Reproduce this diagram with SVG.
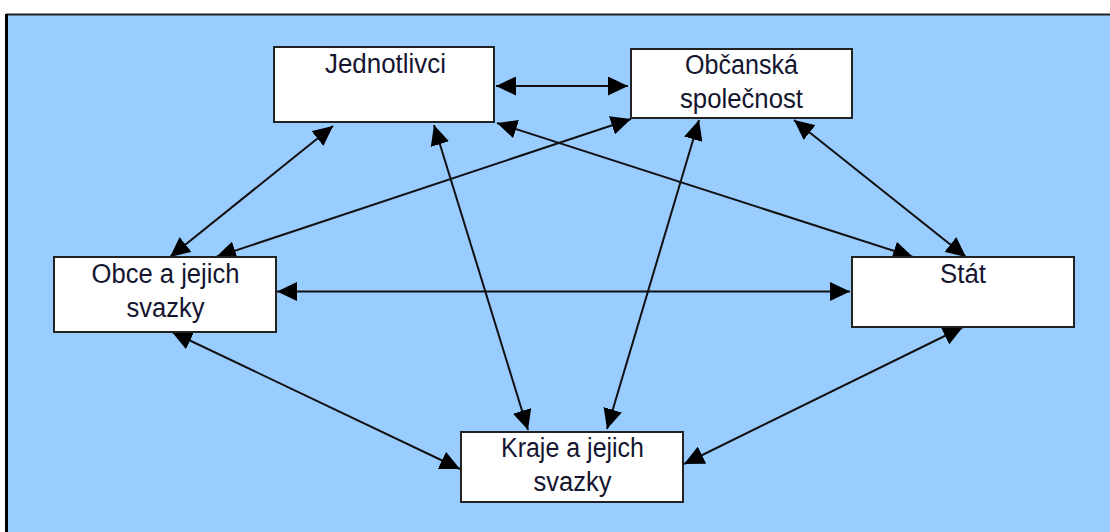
<svg xmlns="http://www.w3.org/2000/svg" width="1110" height="532" viewBox="0 0 1110 532">
  <defs>
    <style>
      .box { fill: #ffffff; stroke: #222222; stroke-width: 2; }
      .lbl { font-family: "Liberation Sans", Arial, sans-serif; font-size: 27px; fill: #151530; text-anchor: middle; }
      .con { stroke: #111111; stroke-width: 2; fill: none; marker-start: url(#ah); marker-end: url(#ah); }
    </style>
    <marker id="ah" markerUnits="userSpaceOnUse" markerWidth="20" markerHeight="19" viewBox="0 0 20 19" refX="20" refY="9.5" orient="auto-start-reverse">
      <path d="M0,0 L20,9.5 L0,19 z" fill="#000000"/>
    </marker>
  </defs>

  <rect x="0" y="0" width="1110" height="532" fill="#ffffff"/>
  <rect x="7" y="14" width="1103" height="518" fill="#99ccff"/>
  <line x1="6" y1="14.5" x2="1110" y2="14.5" stroke="#222222" stroke-width="2"/>
  <line x1="6.5" y1="14" x2="6.5" y2="532" stroke="#000000" stroke-width="3"/>

  <g id="connectors">
    <line class="con" x1="496" y1="86" x2="628" y2="86"/>
    <line class="con" x1="333" y1="126" x2="170" y2="257"/>
    <line class="con" x1="434" y1="125" x2="528" y2="430"/>
    <line class="con" x1="497" y1="123" x2="913" y2="257"/>
    <line class="con" x1="631" y1="119" x2="216" y2="257"/>
    <line class="con" x1="699" y1="120" x2="607" y2="429"/>
    <line class="con" x1="794" y1="120" x2="966" y2="257"/>
    <line class="con" x1="277" y1="291.5" x2="850" y2="291.5"/>
    <line class="con" x1="172" y1="332" x2="460" y2="469"/>
    <line class="con" x1="963" y1="327" x2="684" y2="464"/>
  </g>

  <g id="jednotlivci">
    <rect class="box" x="274" y="47" width="220" height="75"/>
    <text class="lbl" x="385.5" y="73" textLength="121" lengthAdjust="spacingAndGlyphs">Jednotlivci</text>
  </g>
  <g id="obcanska-spolecnost">
    <rect class="box" x="631" y="49" width="221" height="69"/>
    <text class="lbl" x="741.5" y="74" textLength="113" lengthAdjust="spacingAndGlyphs">Občanská</text>
    <text class="lbl" x="741.5" y="108" textLength="123" lengthAdjust="spacingAndGlyphs">společnost</text>
  </g>
  <g id="obce">
    <rect class="box" x="54" y="257" width="222" height="75"/>
    <text class="lbl" x="165.5" y="283" textLength="148" lengthAdjust="spacingAndGlyphs">Obce a jejich</text>
    <text class="lbl" x="165.5" y="317" textLength="78" lengthAdjust="spacingAndGlyphs">svazky</text>
  </g>
  <g id="stat">
    <rect class="box" x="852" y="257" width="222" height="70"/>
    <text class="lbl" x="963" y="283" textLength="46" lengthAdjust="spacingAndGlyphs">Stát</text>
  </g>
  <g id="kraje">
    <rect class="box" x="461" y="432" width="222" height="70"/>
    <text class="lbl" x="572.5" y="457" textLength="143" lengthAdjust="spacingAndGlyphs">Kraje a jejich</text>
    <text class="lbl" x="572.5" y="491" textLength="78" lengthAdjust="spacingAndGlyphs">svazky</text>
  </g>
</svg>
